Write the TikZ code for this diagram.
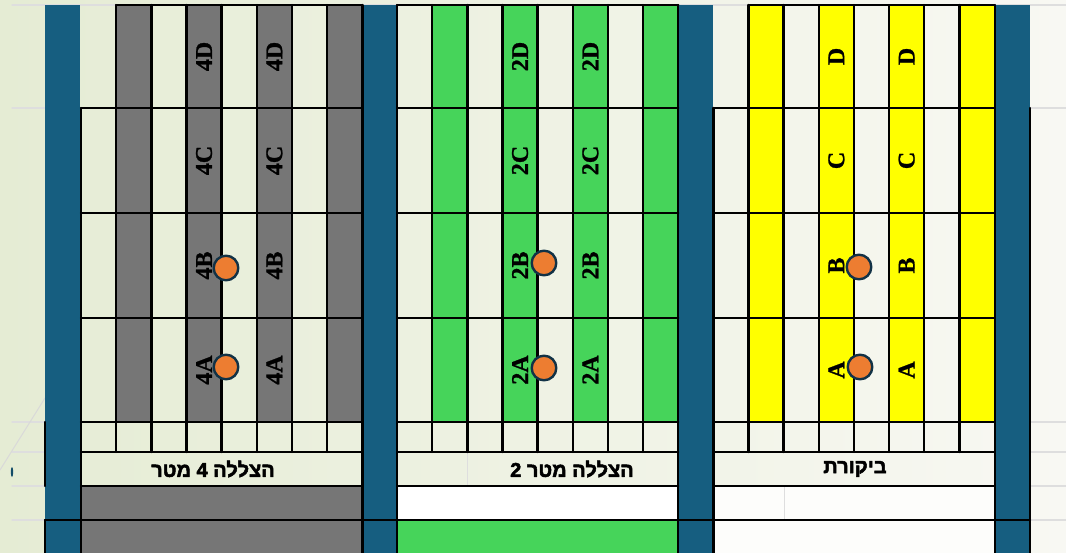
\documentclass[tikz,border=0pt]{standalone}
\usepackage{fontspec}
\newfontfamily\hebfont[Script=Hebrew,FakeBold=2.5]{Liberation Sans Bold}
\newfontfamily\plotfont[FakeBold=1]{Liberation Serif Bold}
\TeXXeTstate=1
\usetikzlibrary{positioning}
\definecolor{barblue}{RGB}{22,94,128}
\definecolor{shadefour}{RGB}{118,118,118}
\definecolor{shadetwo}{RGB}{70,212,90}
\definecolor{ctrlyellow}{RGB}{255,255,0}
\definecolor{dotorange}{RGB}{237,125,49}
\definecolor{dotedge}{RGB}{18,50,70}
\definecolor{gridgray}{RGB}{222,222,222}
\definecolor{bgleft}{RGB}{229,236,212}
\definecolor{bgright}{RGB}{248,248,243}
\tikzset{
  cell/.style={black,line width=2.4pt},
  sheet/.style={gridgray,line width=1.5pt},
  plotlbl/.style={font=\plotfont\fontsize{24}{24}\selectfont,rotate=90,inner sep=0pt},
  sectlbl/.style={font=\hebfont\fontsize{20}{20}\selectfont,inner sep=0pt},
  spot/.style={circle,fill=dotorange,draw=dotedge,line width=2.4pt,minimum size=24.6pt,inner sep=0pt}
}

\begin{document}
\begin{tikzpicture}[x=1pt,y=-1pt,line cap=round,line join=round]
  \useasboundingbox (0,0) rectangle (1066,553);
  \shade[left color=bgleft,right color=bgright] (0,0) rectangle (1066,553);
  \draw[sheet] (12,5) -- (1066,5);
  \foreach \y in {108,422,452,486,520} {
    \draw[sheet] (12,\y) -- (45,\y);
    \draw[sheet] (1030,\y) -- (1066,\y);
  }
  \draw[gray!30,line width=1pt] (0,470) -- (45,398);
  \fill[barblue!80!black] (12,472) ellipse (1.2 and 5);

  \foreach \sx/\col in {81/shadefour,397/shadetwo,713.3/ctrlyellow}
    \foreach \k in {1,3,5,7}
      \fill[\col] ({\sx+\k*35.15},5) rectangle ++(35.15,417);
  \fill[shadefour] (81,486) rectangle (362.3,553);
  \fill[white] (397,486) rectangle (678,520);
  \fill[shadetwo] (397,520) rectangle (678,553);
  \fill[white!70!bgright] (713.3,486) rectangle (995,553);
  \draw[sheet,line width=1pt] (467,452) -- (467,486);
  \draw[sheet,line width=1pt] (784,486) -- (784,520);

  \foreach \bx in {45,362,678,995}
    \fill[barblue] (\bx,5) rectangle ++(35,548);

  \foreach \sx/\tl in {81/116.15,397/397,713.3/748.45} {
    \foreach \k in {1,...,7}
      \draw[cell] ({\sx+\k*35.15},5) -- ({\sx+\k*35.15},452);
    \draw[cell] (\tl,5) -- ({\sx+281.2},5);
    \foreach \y in {108,213,318,422,452,486}
      \draw[cell] (\sx,\y) -- ++(281.2,0);
  }
  \draw[cell] (81,108) -- (81,553);
  \draw[cell] (362.3,5) -- (362.3,553);
  \draw[cell] (397,5) -- (397,553);
  \draw[cell] (678,5) -- (678,553);
  \draw[cell] (713.3,108) -- (713.3,553);
  \draw[cell] (995,5) -- (995,553);
  \draw[cell] (1030,108) -- (1030,553);
  \draw[cell] (45,422) -- (45,486);
  \draw[cell] (45,520) -- (45,553);
  \draw[cell] (45,520) -- (1030,520);

  \foreach \sx/\p in {81/4,397/2,713.3/}
    \foreach \k in {3,5}
      \foreach \r/\y in {D/56.5,C/160.5,B/265.5,A/370}
        \node[plotlbl] (l\p\r\k) at ({\sx+\k*35.15+17.6},\y) {\p\r};

  \node[spot] (b4) at (226,268) {};
  \node[spot] (a4) at (226,367) {};
  \node[spot] (b2) at (544,263) {};
  \node[spot] (a2) at (544,368) {};
  \node[spot] (bc) at (859,267) {};
  \node[spot] (ac) at (860,367) {};

  \node[sectlbl] (t4) at (213,469) {\beginR הצללה 4 מטר\endR};
  \node[sectlbl] (t2) at (572,469) {\beginR הצללה מטר 2\endR};
  \node[sectlbl] (tc) at (855,469) {\beginR ביקורת\endR};
\end{tikzpicture}
\end{document}
